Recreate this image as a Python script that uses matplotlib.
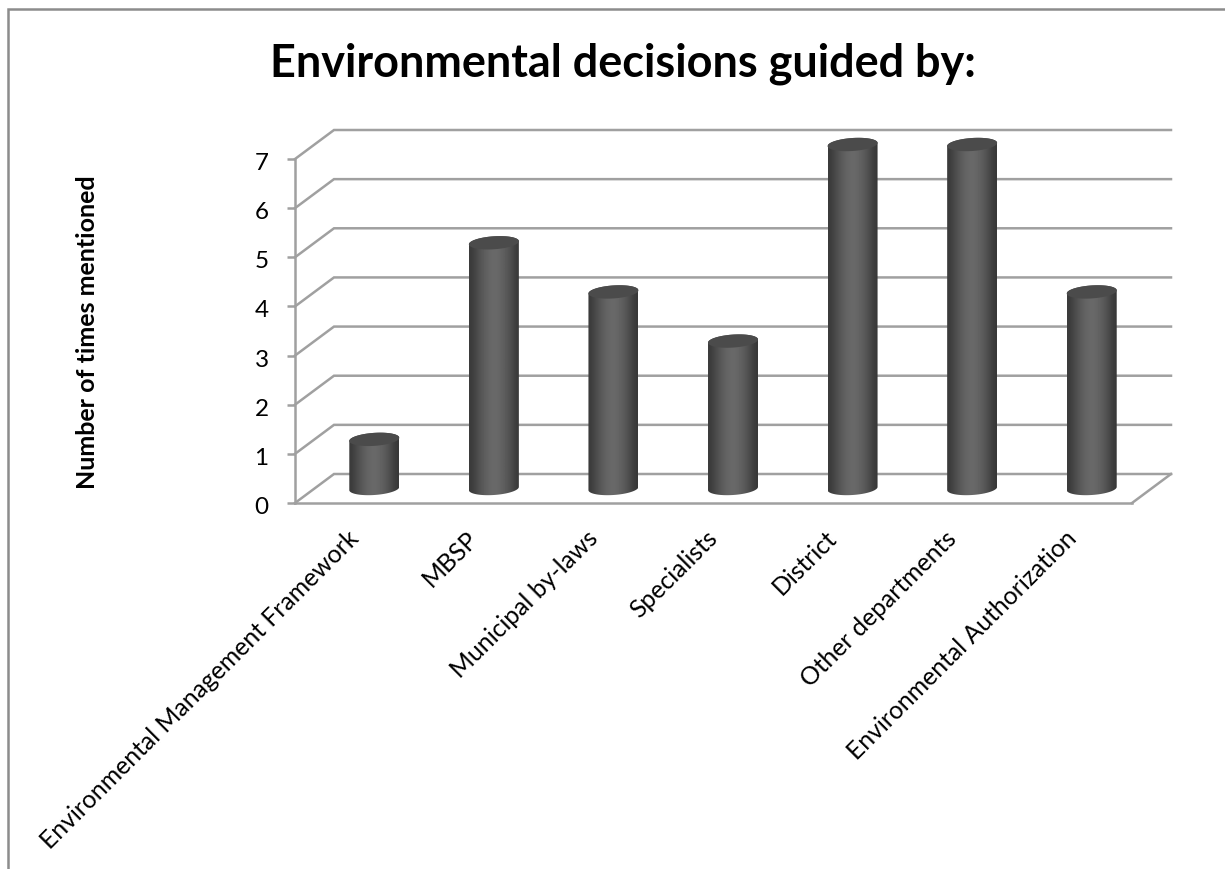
#!/usr/bin/env python3
import matplotlib
matplotlib.use("Agg")
import matplotlib.pyplot as plt
import numpy as np
from matplotlib.lines import Line2D
from matplotlib.patches import Polygon
from matplotlib.transforms import ScaledTranslation

categories = [
    "Environmental Management Framework",
    "MBSP",
    "Municipal by-laws",
    "Specialists",
    "District",
    "Other departments",
    "Environmental Authorization",
]
mentions = [1, 5, 4, 3, 7, 7, 4]
y_ticks = [0, 1, 2, 3, 4, 5, 6, 7]

plt.rcParams["font.family"] = ["Lato", "DejaVu Sans"]

W, H = 1225, 869
LINE = "#a0a0a0"

fig = plt.figure(figsize=(W / 100, H / 100), dpi=100)
# front plane of the 3D box, pixel rectangle converted to figure fractions
x0, x1, y0, y7 = 295, 1132, 503, 159
ax = fig.add_axes([x0 / W, 1 - y0 / H, (x1 - x0) / W, (y0 - y7) / H])
ax.set_xlim(0, len(categories))
ax.set_ylim(0, 7)

# depth of the box in data units
dx = 39 / ((x1 - x0) / len(categories))
dy = 29 / ((y0 - y7) / 7)

# back wall gridlines with their slanted side wall part
for v in y_ticks:
    ax.plot([0, dx, len(categories) + dx], [v, v + dy, v + dy],
            color=LINE, lw=1.8, clip_on=False, zorder=1, solid_joinstyle="miter")
# floor edge on the right
ax.plot([len(categories), len(categories) + dx], [0, dy],
        color=LINE, lw=1.8, clip_on=False, zorder=1)

for s in ["top", "right"]:
    ax.spines[s].set_visible(False)
for s in ["left", "bottom"]:
    ax.spines[s].set_color(LINE)
    ax.spines[s].set_linewidth(1.8)
    ax.spines[s].set_zorder(1)

ax.set_yticks(y_ticks)
ax.tick_params(axis="y", length=6, width=1.8, color=LINE, labelsize=17.5,
               labelcolor="black", pad=13)
# nudge the value labels slightly below their ticks
for lab in ax.get_yticklabels():
    lab.set_transform(lab.get_transform() + ScaledTranslation(0, -2.5 / 100, fig.dpi_scale_trans))

ax.set_xticks(np.arange(len(categories)) + 0.5)
ax.set_xticklabels(categories, rotation=45, ha="right", rotation_mode="anchor",
                   fontsize=17.8)
ax.tick_params(axis="x", length=0, pad=17)
for lab in ax.get_xticklabels():
    lab.set_transform(lab.get_transform() + ScaledTranslation(-8 / 100, 0, fig.dpi_scale_trans))

# cylinders: shaded image clipped to the outline, darker ellipse on top
half_w = 25 / ((x1 - x0) / len(categories))
cap_h = 6.5 / ((y0 - y7) / 7)
tilt = 1.6 / ((y0 - y7) / 7)
shade = np.array([0.23, 0.27, 0.32, 0.36, 0.39, 0.41, 0.41, 0.39, 0.36, 0.32, 0.27, 0.22])
t = np.linspace(0, 2 * np.pi, 120)

for i, val in enumerate(mentions):
    cx = i + 0.5 + dx / 2
    base = dy / 2
    ex = cx + half_w * np.cos(t)
    ey = cap_h * np.sin(t) + tilt * np.cos(t)

    upper = t[t <= np.pi]
    lower = t[t >= np.pi]
    outline = np.vstack([
        np.column_stack([cx + half_w * np.cos(upper),
                         base + val + cap_h * np.sin(upper) + tilt * np.cos(upper)]),
        np.column_stack([cx + half_w * np.cos(lower),
                         base + cap_h * np.sin(lower) + tilt * np.cos(lower)]),
    ])
    body = Polygon(outline, closed=True, transform=ax.transData, fc="none", ec="none")
    ax.add_patch(body)
    body.set_clip_on(False)
    img = ax.imshow(shade[np.newaxis, :], cmap="gray", vmin=0, vmax=1, aspect="auto",
                    extent=[cx - half_w, cx + half_w, base - cap_h * 1.5, base + val + cap_h * 1.5],
                    interpolation="bicubic", zorder=3)
    # the tallest cylinders stick out above the front plane
    img.set_clip_path(body)
    img.set_clip_box(fig.bbox)
    ax.fill(ex, base + val + ey, color="#4b4b4b", zorder=4, clip_on=False, lw=0)

ax.set_xlim(0, len(categories))
ax.set_ylim(0, 7)

fig.text(623 / W, 1 - 64 / H, "Environmental decisions guided by:", ha="center", va="center",
         fontsize=32.4, fontweight="bold")
fig.text(88 / W, 1 - 332 / H, "Number of times mentioned", rotation=90, ha="center", va="center",
         fontsize=18, fontweight="bold")

# outer chart frame, only left and top edges are on the canvas
fx = [8 / W, 8 / W, 1]
fy = [0, 1 - 9 / H, 1 - 9 / H]
fig.add_artist(Line2D(fx, fy, color="#8c8c8c", lw=1.8, solid_joinstyle="miter"))

fig.savefig("out.png", dpi=100)
